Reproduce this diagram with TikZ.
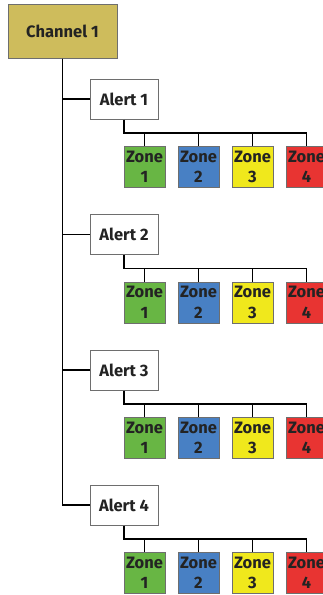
\documentclass[tikz,border=0pt]{standalone}
\usepackage{fontspec}
\setmainfont{Fira Sans}[UprightFont=* SemiBold, BoldFont=* Bold]
\definecolor{chanfill}{RGB}{206,188,92}
\definecolor{zonegreen}{RGB}{104,182,68}
\definecolor{zoneblue}{RGB}{72,128,196}
\definecolor{zoneyellow}{RGB}{240,232,28}
\definecolor{zonered}{RGB}{232,52,50}
\definecolor{boxline}{RGB}{110,110,110}
\definecolor{textdark}{RGB}{35,35,35}
\begin{document}
\begin{tikzpicture}[x=1pt, y=-1pt, font=\fontsize{16.5}{20.5}\selectfont\bfseries, text=textdark,
    chanbox/.style={draw=boxline, line width=1pt, fill=chanfill, minimum width=109pt, minimum height=54pt, inner sep=0pt},
    alertbox/.style={draw=boxline, line width=1pt, fill=white, minimum width=68pt, minimum height=40pt, inner sep=0pt},
    zonebox/.style={draw=boxline, line width=0.8pt, minimum width=41pt, minimum height=41pt, inner sep=0pt, align=center, text depth=0pt},
    link/.style={line width=1.3pt, black}]
    \clip (0,0) rectangle (323,595);
    \fill[white] (0,0) rectangle (323,595);

    % Root
    \node[chanbox] (channel) at (62.5,31) {Channel 1};

    % Alerts
    \node[alertbox] (alert1) at (124,99) {Alert 1};
    \node[alertbox] (alert2) at (124,234.5) {Alert 2};
    \node[alertbox] (alert3) at (124,370) {Alert 3};
    \node[alertbox] (alert4) at (124,505) {Alert 4};

    % Zones under Alert 1
    \node[zonebox, fill=zonegreen] (z11) at (144.5,167) {Zone\\1};
    \node[zonebox, fill=zoneblue] (z12) at (198.5,167) {Zone\\2};
    \node[zonebox, fill=zoneyellow] (z13) at (252.5,167) {Zone\\3};
    \node[zonebox, fill=zonered] (z14) at (306.5,167) {Zone\\4};

    % Zones under Alert 2
    \node[zonebox, fill=zonegreen] (z21) at (144.5,302.5) {Zone\\1};
    \node[zonebox, fill=zoneblue] (z22) at (198.5,302.5) {Zone\\2};
    \node[zonebox, fill=zoneyellow] (z23) at (252.5,302.5) {Zone\\3};
    \node[zonebox, fill=zonered] (z24) at (306.5,302.5) {Zone\\4};

    % Zones under Alert 3
    \node[zonebox, fill=zonegreen] (z31) at (144.5,438) {Zone\\1};
    \node[zonebox, fill=zoneblue] (z32) at (198.5,438) {Zone\\2};
    \node[zonebox, fill=zoneyellow] (z33) at (252.5,438) {Zone\\3};
    \node[zonebox, fill=zonered] (z34) at (306.5,438) {Zone\\4};

    % Zones under Alert 4
    \node[zonebox, fill=zonegreen] (z41) at (144.5,573) {Zone\\1};
    \node[zonebox, fill=zoneblue] (z42) at (198.5,573) {Zone\\2};
    \node[zonebox, fill=zoneyellow] (z43) at (252.5,573) {Zone\\3};
    \node[zonebox, fill=zonered] (z44) at (306.5,573) {Zone\\4};

    % Bus points below each alert
    \coordinate (bus1) at (124,133);
    \coordinate (bus2) at (124,268.5);
    \coordinate (bus3) at (124,404);
    \coordinate (bus4) at (124,539);

    % Connections from root
    \draw[link] (channel.south) |- (alert1.west);
    \draw[link] (channel.south) |- (alert2.west);
    \draw[link] (channel.south) |- (alert3.west);
    \draw[link] (channel.south) |- (alert4.west);

    % Connections from alerts to zones
    \draw[link] (alert1.south) -- (bus1) -| (z14.north);
    \draw[link] (bus1) -| (z11.north);
    \draw[link] (bus1) -| (z12.north);
    \draw[link] (bus1) -| (z13.north);

    \draw[link] (alert2.south) -- (bus2) -| (z24.north);
    \draw[link] (bus2) -| (z21.north);
    \draw[link] (bus2) -| (z22.north);
    \draw[link] (bus2) -| (z23.north);

    \draw[link] (alert3.south) -- (bus3) -| (z34.north);
    \draw[link] (bus3) -| (z31.north);
    \draw[link] (bus3) -| (z32.north);
    \draw[link] (bus3) -| (z33.north);

    \draw[link] (alert4.south) -- (bus4) -| (z44.north);
    \draw[link] (bus4) -| (z41.north);
    \draw[link] (bus4) -| (z42.north);
    \draw[link] (bus4) -| (z43.north);
\end{tikzpicture}
\end{document}
